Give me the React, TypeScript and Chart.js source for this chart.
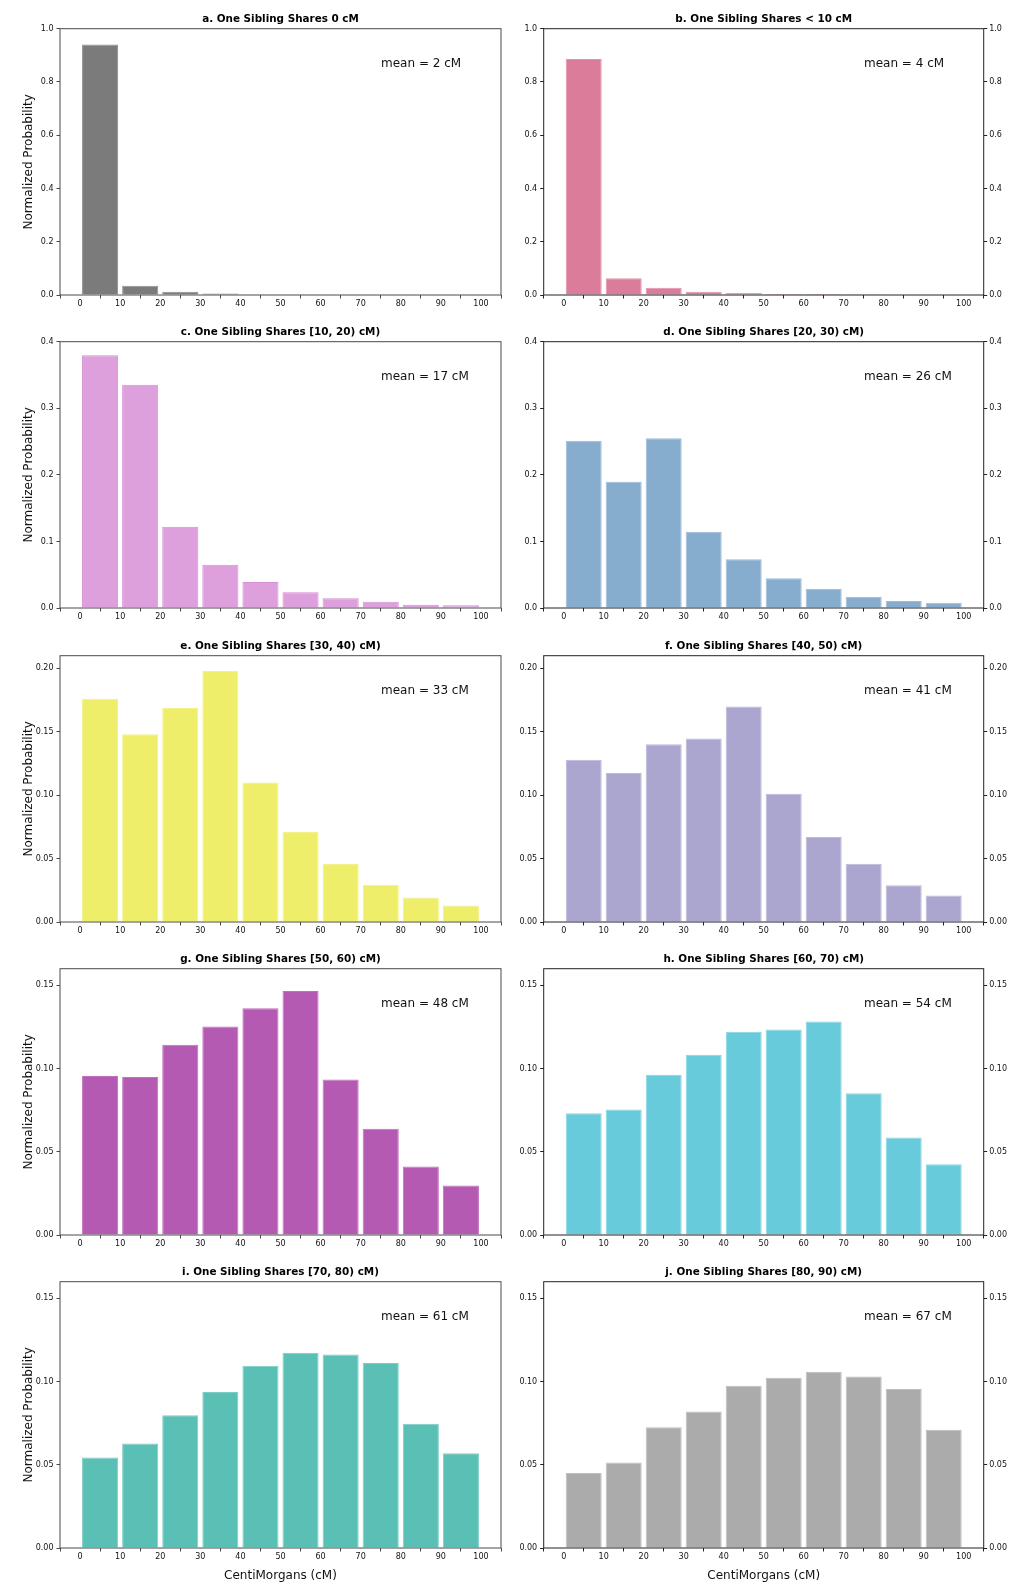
import { useEffect, useRef } from 'react'
import Chart from 'chart.js/auto'

const FONT = '"DejaVu Sans", Verdana, sans-serif'

// bins of 10 cM, bars drawn at the bin centres
const binCenters = [5, 15, 25, 35, 45, 55, 65, 75, 85, 95]
const xTicks = [0, 10, 20, 30, 40, 50, 60, 70, 80, 90, 100]

const panelTitles = [
  'a. One Sibling Shares 0 cM',
  'b. One Sibling Shares < 10 cM',
  'c. One Sibling Shares [10, 20) cM)',
  'd. One Sibling Shares [20, 30) cM)',
  'e. One Sibling Shares [30, 40) cM)',
  'f. One Sibling Shares [40, 50) cM)',
  'g. One Sibling Shares [50, 60) cM)',
  'h. One Sibling Shares [60, 70) cM)',
  'i. One Sibling Shares [70, 80) cM)',
  'j. One Sibling Shares [80, 90) cM)',
]
const panelMeans = [2, 4, 17, 26, 33, 41, 48, 54, 61, 67]

const valuesA = [0.941, 0.035, 0.0125, 0.006, 0.0025, 0.0025, 0, 0, 0, 0]
const valuesB = [0.886, 0.0626, 0.0275, 0.0125, 0.0075, 0.004, 0.004, 0.003, 0, 0]
const valuesC = [0.3795, 0.3354, 0.1222, 0.0651, 0.039, 0.0235, 0.0145, 0.0095, 0.005, 0.004]
const valuesD = [0.2513, 0.1897, 0.2548, 0.1146, 0.0731, 0.0446, 0.029, 0.017, 0.0105, 0.008]
const valuesE = [0.1761, 0.148, 0.1687, 0.1979, 0.1101, 0.071, 0.0457, 0.0294, 0.0194, 0.0131]
const valuesF = [0.128, 0.1175, 0.1401, 0.1448, 0.17, 0.1012, 0.067, 0.046, 0.0289, 0.0208]
const valuesG = [0.0955, 0.095, 0.1143, 0.1253, 0.1362, 0.1466, 0.0934, 0.0638, 0.0411, 0.0297]
const valuesH = [0.0732, 0.0754, 0.0963, 0.1083, 0.1221, 0.1235, 0.1283, 0.0852, 0.0586, 0.0425]
const valuesI = [0.0543, 0.0628, 0.0798, 0.0938, 0.1095, 0.1173, 0.1163, 0.1111, 0.0746, 0.0569]
const valuesJ = [0.0451, 0.0513, 0.0726, 0.082, 0.0975, 0.1023, 0.1059, 0.1031, 0.0955, 0.071]
const panelValues = [valuesA, valuesB, valuesC, valuesD, valuesE, valuesF, valuesG, valuesH, valuesI, valuesJ]

const panelColors = ['#7b7b7b', '#da7c9a', '#dda0dd', '#86acce', '#eeee6a', '#aaa6d0', '#b45ab2', '#68cbdc', '#5abfb4', '#ababab']
const panelEdges = ['#8e8e8e', '#e291ab', '#d58fd5', '#9dbcd8', '#f2f28a', '#bcb8da', '#c070be', '#86d6e4', '#7ccdc4', '#bdbdbd']

// y axes per row of the grid
const yTicksRow1 = [0, 0.2, 0.4, 0.6, 0.8, 1.0]
const yTicksRow2 = [0, 0.1, 0.2, 0.3, 0.4]
const yTicksRow3 = [0, 0.05, 0.1, 0.15, 0.2]
const yTicksRow45 = [0, 0.05, 0.1, 0.15]
const rowYTicks = [yTicksRow1, yTicksRow2, yTicksRow3, yTicksRow45, yTicksRow45]
const rowYMax = [1.0, 0.4, 0.21, 0.16, 0.16]
const rowYDecimals = [1, 1, 2, 2, 2]

const cellTops = [0, 313, 627, 940, 1253]
const AREA_TOP = 28.7

function Panel({ idx }: { idx: number }) {
  const canvasRef = useRef<HTMLCanvasElement>(null)
  const row = Math.floor(idx / 2)
  const col = idx % 2
  const isLeft = col === 0
  const isBottom = row === 4
  const cellH = isBottom ? 339 : 313

  useEffect(() => {
    if (!canvasRef.current) return
    const ctx = canvasRef.current.getContext('2d')
    if (!ctx) return

    const spine = isLeft ? '#4a4a4a' : '#222222'
    const tickFont = { family: FONT, size: 8 }
    const tickGrid = {
      display: true,
      drawOnChartArea: false,
      drawTicks: true,
      tickLength: 3.5,
      color: spine,
      lineWidth: 1,
    }
    const yTicks = rowYTicks[row]
    const dec = rowYDecimals[row]

    const yScale = (position: 'left' | 'right', width: number, withTitle: boolean) => ({
      type: 'linear' as const,
      position,
      min: 0,
      max: rowYMax[row],
      afterBuildTicks: (s: any) => {
        s.ticks = yTicks.map((v) => ({ value: v }))
      },
      afterFit: (s: any) => {
        s.width = width
      },
      ticks: {
        font: tickFont,
        color: '#111',
        padding: position === 'left' ? 3 : 2,
        callback: (v: any) => Number(v).toFixed(dec),
      },
      grid: tickGrid,
      border: { display: false },
      title: {
        display: withTitle,
        text: 'Normalized Probability',
        font: { family: FONT, size: 12 },
        color: '#111',
        padding: { top: 22.1, bottom: 0 },
      },
    })

    const decor = {
      id: 'panelDecor',
      afterDatasetsDraw(chart: any) {
        const { ctx: c, chartArea: a } = chart
        c.save()
        c.strokeStyle = spine
        c.lineWidth = 1
        c.strokeRect(a.left, a.top, a.right - a.left, a.bottom - a.top)
        c.restore()
      },
      afterDraw(chart: any) {
        const { ctx: c, chartArea: a } = chart
        c.save()
        c.fillStyle = '#000'
        c.textBaseline = 'middle'
        c.textAlign = 'center'
        c.font = `bold 10.4px ${FONT}`
        c.fillText(panelTitles[idx], (a.left + a.right) / 2, 19.3)
        c.textAlign = 'left'
        c.font = `12px ${FONT}`
        c.fillStyle = '#111'
        c.fillText(`mean = ${panelMeans[idx]} cM`, a.left + 0.728 * (a.right - a.left), a.top + 35.3)
        c.restore()
      },
    }

    const scales: any = {
      x: {
        type: 'linear',
        min: -5,
        max: 105,
        offset: false,
        afterBuildTicks: (s: any) => {
          s.ticks = xTicks.map((v) => ({ value: v }))
        },
        afterFit: (s: any) => {
          s.height = isBottom ? 44 : 18
        },
        ticks: {
          font: tickFont,
          color: '#111',
          padding: 1,
          maxRotation: 0,
          autoSkip: false,
          callback: (v: any) => String(v),
        },
        grid: tickGrid,
        border: { display: false },
        title: {
          display: isBottom,
          text: 'CentiMorgans (cM)',
          font: { family: FONT, size: 12 },
          color: '#111',
          padding: { top: 0, bottom: 8.8 },
        },
      },
      y: yScale('left', isLeft ? 60 : 31.7, isLeft),
    }
    if (!isLeft) {
      scales.y2 = yScale('right', 40.3, false)
    }

    const chart = new Chart(ctx, {
      type: 'bar',
      data: {
        datasets: [
          {
            data: panelValues[idx].map((v, i) => ({ x: binCenters[i], y: v })),
            backgroundColor: panelColors[idx],
            borderColor: panelEdges[idx],
            borderWidth: 1,
            barPercentage: 0.9,
            categoryPercentage: 1.0,
            yAxisID: 'y',
          },
        ],
      },
      options: {
        responsive: false,
        animation: false,
        events: [],
        layout: {
          padding: { top: AREA_TOP, left: 0, right: isLeft ? 11 : 0, bottom: 0 },
        },
        plugins: {
          legend: { display: false },
          tooltip: { enabled: false },
          title: { display: false },
        },
        scales,
      },
      plugins: [decor],
    } as any)

    return () => {
      chart.destroy()
    }
  }, [idx])

  return (
    <canvas
      ref={canvasRef}
      width={512}
      height={cellH}
      style={{
        position: 'absolute',
        left: col * 512,
        top: cellTops[row],
        width: 512,
        height: cellH,
      }}
    />
  )
}

export default function App() {
  return (
    <div
      style={{
        position: 'absolute',
        left: 0,
        top: 0,
        width: 1024,
        height: 1592,
        background: '#fff',
        overflow: 'hidden',
      }}
    >
      {panelTitles.map((_, i) => (
        <Panel key={i} idx={i} />
      ))}
    </div>
  )
}
